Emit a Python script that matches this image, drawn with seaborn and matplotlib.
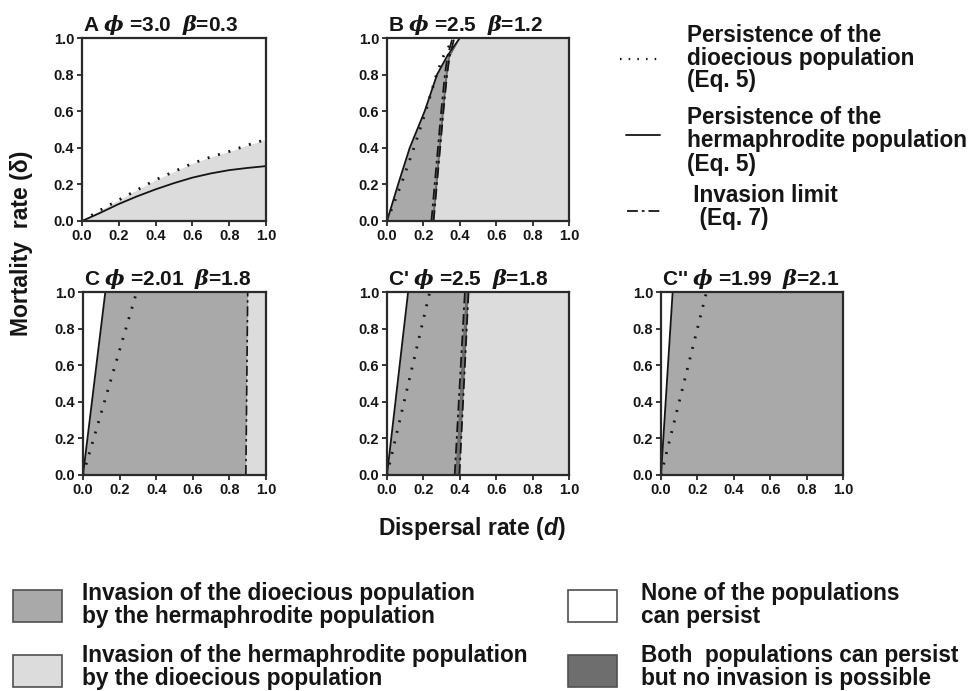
import numpy as np
import matplotlib
matplotlib.use("Agg")
import matplotlib.pyplot as plt
import seaborn as sns
from matplotlib.lines import Line2D
from matplotlib.patches import Rectangle

# ---------------- data ----------------
ticks = [0.0, 0.2, 0.4, 0.6, 0.8, 1.0]
tick_labels = ["0.0", "0.2", "0.4", "0.6", "0.8", "1.0"]

titles = {
    "A": r"A $\phi$ =3.0  $\beta$=0.3",
    "B": r"B $\phi$ =2.5  $\beta$=1.2",
    "C": r"C $\phi$ =2.01  $\beta$=1.8",
    "C1": r"C' $\phi$ =2.5  $\beta$=1.8",
    "C2": r"C'' $\phi$ =1.99  $\beta$=2.1",
}

# Panel A : curves as functions of dispersal d
A_d = [0.0, 0.1, 0.2, 0.3, 0.4, 0.5, 0.6, 0.7, 0.8, 0.9, 1.0]
A_dot_delta = [0.0, 0.06, 0.115, 0.17, 0.225, 0.27, 0.315, 0.35, 0.38, 0.415, 0.445]
A_sol_delta = [0.0, 0.045, 0.093, 0.135, 0.173, 0.207, 0.237, 0.26, 0.278, 0.29, 0.30]

# Panel B : curves as functions of mortality delta
B_delta = [0.0, 0.2, 0.4, 0.6, 0.8, 0.9, 1.0]
B_sol_d = [0.0, 0.061, 0.125, 0.207, 0.275, 0.33, 0.40]
B_dot_d = [0.0, 0.078, 0.148, 0.213, 0.272, 0.31, 0.365]
B_inv1_d = [0.244, 0.262, 0.28, 0.298, 0.318, 0.332, 0.36]
B_inv2_d = [0.256, 0.274, 0.292, 0.31, 0.33, 0.344, 0.37]

# Panel C
C_delta = [0.0, 1.0]
C_sol_d = [0.0, 0.122]
C_dot_d = [0.0, 0.293]
C_inv_d = [0.89, 0.90]

# Panel C'
C1_delta = [0.0, 1.0]
C1_sol_d = [0.0, 0.116]
C1_dot_d = [0.0, 0.235]
C1_inv1_d = [0.372, 0.428]
C1_inv2_d = [0.398, 0.448]

# Panel C''
C2_delta = [0.0, 1.0]
C2_sol_d = [0.0, 0.064]
C2_dot_d = [0.0, 0.25]

legend_lines = ["Persistence of the\ndioecious population\n(Eq. 5)",
                "Persistence of the\nhermaphrodite population\n(Eq. 5)",
                " Invasion limit\n  (Eq. 7)"]
legend_fills = ["Invasion of the dioecious population\nby the hermaphrodite population",
                "Invasion of the hermaphrodite population\nby the dioecious population",
                "None of the populations\ncan persist",
                "Both  populations can persist\nbut no invasion is possible"]

# ---------------- style ----------------
DARK = "#a9a9a9"
LIGHT = "#dcdcdc"
DARKEST = "#6e6e6e"
INK = "#151515"
DOT = (0, (0.7, 3.2))
DASHDOT = (0, (6, 2.2, 1.5, 2.2))
TICK_FS = 10.5
LEG_FS = 16.3
LAB_FS = 16.5

sns.set_theme(style="white")
plt.rcParams['font.family'] = ['Liberation Sans', 'DejaVu Sans']
plt.rcParams['font.weight'] = 'bold'
plt.rcParams['mathtext.fontset'] = 'custom'
plt.rcParams['mathtext.it'] = 'DejaVu Serif:italic'
plt.rcParams['mathtext.rm'] = 'Liberation Sans:bold'
plt.rcParams['mathtext.bf'] = 'Liberation Sans:bold'
plt.rcParams['mathtext.bfit'] = 'Liberation Sans:bold:italic'

W, H = 970, 691
fig = plt.figure(figsize=(W / 100, H / 100), dpi=100)
fig.patch.set_facecolor("white")


def ax_at(l, t, r, b):
    return fig.add_axes([l / W, 1 - b / H, (r - l) / W, (b - t) / H])


def style(ax, key):
    ax.set_xlim(0, 1)
    ax.set_ylim(0, 1)
    ax.set_xticks(ticks)
    ax.set_yticks(ticks)
    ax.set_xticklabels(tick_labels, fontsize=TICK_FS, fontweight="bold")
    ax.set_yticklabels(tick_labels, fontsize=TICK_FS, fontweight="bold")
    ax.tick_params(direction="out", length=3.5, width=1.2, color=INK, pad=2.0,
                   bottom=True, left=True, labelcolor=INK)
    for s in ax.spines.values():
        s.set_linewidth(1.6)
        s.set_color("#2a2a2a")
        s.set_zorder(5)
    ax.set_xlabel("")
    ax.set_ylabel("")
    ax.grid(False)
    ax.annotate(titles[key], xy=(0, 1), xycoords="axes fraction", xytext=(1, 5),
                textcoords="offset points", ha="left", va="baseline",
                fontsize=15, fontweight="bold", color=INK)


def line(ax, x, y, ls, lw):
    sns.lineplot(x=np.asarray(x), y=np.asarray(y), ax=ax, color=INK, linestyle=ls,
                 linewidth=lw, sort=False, estimator=None, legend=False, zorder=4)


# ---- Panel A ----
axA = ax_at(82, 38, 266, 221)
axA.fill_between(A_d, 0, A_dot_delta, color=LIGHT, lw=0, zorder=1)
line(axA, A_d, A_dot_delta, DOT, 2.0)
line(axA, A_d, A_sol_delta, "-", 1.3)
style(axA, "A")

# ---- Panel B ----
axB = ax_at(387, 38, 569, 221)
sol = np.asarray(B_sol_d)
i1 = np.asarray(B_inv1_d)
i2 = np.asarray(B_inv2_d)
axB.fill_betweenx(B_delta, sol, 1.0, color=LIGHT, lw=0, zorder=1)
axB.fill_betweenx(B_delta, sol, i1, where=i1 > sol, interpolate=True, color=DARK, lw=0, zorder=2)
axB.fill_betweenx(B_delta, np.maximum(sol, i1), np.maximum(sol, i2), color=DARKEST, lw=0, zorder=2)
line(axB, B_sol_d, B_delta, "-", 1.3)
line(axB, B_dot_d, B_delta, DOT, 2.0)
line(axB, B_inv1_d, B_delta, DASHDOT, 1.3)
line(axB, B_inv2_d, B_delta, DASHDOT, 1.3)
style(axB, "B")

# ---- Panel C ----
axC = ax_at(83, 292, 266, 475)
axC.fill_betweenx(C_delta, C_sol_d, C_inv_d, color=DARK, lw=0, zorder=1)
axC.fill_betweenx(C_delta, C_inv_d, 1.0, color=LIGHT, lw=0, zorder=1)
line(axC, C_sol_d, C_delta, "-", 1.3)
line(axC, C_dot_d, C_delta, DOT, 2.0)
line(axC, C_inv_d, C_delta, DASHDOT, 1.2)
style(axC, "C")

# ---- Panel C' ----
axC1 = ax_at(387, 292, 569, 475)
axC1.fill_betweenx(C1_delta, C1_sol_d, C1_inv1_d, color=DARK, lw=0, zorder=1)
axC1.fill_betweenx(C1_delta, C1_inv1_d, C1_inv2_d, color=DARKEST, lw=0, zorder=1)
axC1.fill_betweenx(C1_delta, C1_inv2_d, 1.0, color=LIGHT, lw=0, zorder=1)
line(axC1, C1_sol_d, C1_delta, "-", 1.3)
line(axC1, C1_dot_d, C1_delta, DOT, 2.0)
line(axC1, C1_inv1_d, C1_delta, DASHDOT, 1.3)
line(axC1, C1_inv2_d, C1_delta, DASHDOT, 1.3)
style(axC1, "C1")

# ---- Panel C'' ----
axC2 = ax_at(661, 292, 843, 475)
axC2.fill_betweenx(C2_delta, C2_sol_d, 1.0, color=DARK, lw=0, zorder=1)
line(axC2, C2_sol_d, C2_delta, "-", 1.3)
line(axC2, C2_dot_d, C2_delta, DOT, 2.0)
style(axC2, "C2")

# ---------------- axis labels ----------------
fig.text(22 / W, 1 - 243 / H, "Mortality  rate (δ)", rotation=90, ha="center", va="center",
         fontsize=LAB_FS, fontweight="bold", color=INK)
fig.text(472 / W, 1 - 528 / H, r"Dispersal rate ($\mathbfit{d}$)", ha="center", va="center",
         fontsize=LAB_FS, fontweight="bold", color=INK)

# ---------------- right legend (line styles) ----------------
for (x0, x1, y, ls, lw) in [(620, 662, 59, DOT, 1.6), (626, 660, 135, "-", 1.3),
                            (627, 660, 211, DASHDOT, 1.3)]:
    fig.add_artist(Line2D([x0 / W, x1 / W], [1 - y / H, 1 - y / H], transform=fig.transFigure,
                          color=INK, linestyle=ls, linewidth=lw))
for txt, yc in zip(legend_lines, [58, 141, 207]):
    fig.text(687 / W, 1 - yc / H, txt, ha="left", va="center", fontsize=LEG_FS,
             fontweight="bold", color=INK, linespacing=1.0)

# ---------------- bottom legend (fills) ----------------
fill_cols = [DARK, LIGHT, "white", DARKEST]
boxes = [(13, 590), (13, 655), (568, 590), (568, 655)]
text_yc = [605, 667, 605, 667]
text_x = [82, 82, 641, 641]
for txt, col, (bx, by), tx, ty in zip(legend_fills, fill_cols, boxes, text_x, text_yc):
    fig.add_artist(Rectangle((bx / W, 1 - (by + 32) / H), 49 / W, 32 / H, transform=fig.transFigure,
                             facecolor=col, edgecolor="#505050", linewidth=1.2))
    fig.text(tx / W, 1 - ty / H, txt, ha="left", va="center", fontsize=LEG_FS,
             fontweight="bold", color=INK, linespacing=1.0)

fig.savefig("out.png", dpi=100, facecolor="white")
